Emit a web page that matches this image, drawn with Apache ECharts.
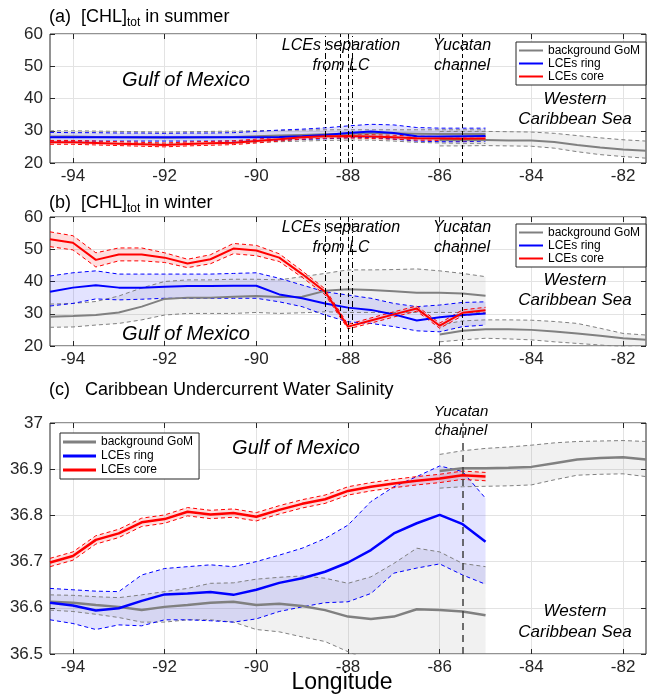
<!DOCTYPE html>
<html>
<head>
<meta charset="utf-8">
<title>CHL and CUW salinity along the LCE path</title>
<script src="https://cdn.jsdelivr.net/npm/echarts@6/dist/echarts.min.js"></script>
<style>
  html, body { margin: 0; padding: 0; background: #fff; }
  #chart { width: 647px; height: 698px; }
</style>
</head>
<body>
<div id="chart"></div>
<script>
// longitudes of the along-path sections
const LON = [-94.5, -94, -93.5, -93, -92.5, -92, -91.5, -91, -90.5, -90, -89.5, -89, -88.5, -88, -87.5, -87, -86.5, -86, -85.5, -85]
const LON_CARIB = [-86, -85.5, -85, -84.5, -84, -83.5, -83, -82.5, -82, -81.5]
const X_TICKS = [-94, -92, -90, -88, -86, -84, -82]
const SEPARATION_LON = [-88.5, -88.17, -88.0, -87.9]
const YUCATAN_LON = -85.5
const LEGEND_NAMES = ["background GoM", "LCEs ring", "LCEs core"]

// (a) [CHL]tot in summer
const SUMMER_GOM_MEAN = [28.2, 28.2, 28.1, 28.0, 27.9, 27.8, 27.9, 28.0, 28.1, 28.3, 28.5, 28.7, 28.9, 29.1, 29.2, 29.2, 29.1, 29.0, 29.0, 29.0]
const SUMMER_GOM_HI = [30.0, 30.0, 29.9, 29.8, 29.7, 29.6, 29.7, 29.8, 29.9, 30.0, 30.1, 30.2, 30.3, 30.3, 30.3, 30.3, 30.3, 30.3, 30.3, 30.3]
const SUMMER_GOM_LO = [26.3, 26.3, 26.2, 26.1, 26.0, 25.9, 26.0, 26.1, 26.2, 26.4, 26.6, 26.8, 27.0, 27.1, 27.1, 26.8, 26.4, 26.2, 26.1, 26.1]
const SUMMER_RING_MEAN = [28.0, 28.0, 28.0, 28.0, 28.0, 28.0, 28.0, 28.0, 28.0, 28.0, 28.1, 28.3, 28.7, 29.3, 29.8, 29.3, 28.3, 28.2, 28.3, 28.4]
const SUMMER_RING_HI = [29.5, 29.4, 29.4, 29.3, 29.3, 29.2, 29.3, 29.3, 29.4, 29.8, 30.2, 30.5, 30.9, 31.5, 32.0, 31.8, 31.0, 30.8, 30.8, 30.8]
const SUMMER_RING_LO = [26.8, 26.8, 26.8, 26.8, 26.8, 26.8, 26.8, 26.8, 26.8, 26.9, 27.1, 27.3, 27.5, 27.8, 27.9, 27.4, 26.8, 26.6, 26.6, 26.8]
const SUMMER_CORE_MEAN = [26.4, 26.4, 26.2, 26.0, 25.8, 25.6, 25.9, 26.1, 26.3, 26.8, 27.4, 28.0, 28.3, 28.4, 28.2, 28.0, 27.7, 27.6, 27.5, 27.6]
const SUMMER_CORE_SPREAD = [0.6, 0.6, 0.6, 0.6, 0.6, 0.6, 0.6, 0.6, 0.6, 0.6, 0.6, 0.6, 0.6, 0.6, 0.6, 0.6, 0.6, 0.6, 0.6, 0.6]
const SUMMER_CARIB_MEAN = [27.1, 27.1, 27.1, 27.0, 27.0, 26.5, 25.6, 24.8, 24.2, 23.8]
const SUMMER_CARIB_HI = [29.8, 29.8, 29.8, 29.7, 29.6, 29.2, 28.5, 27.8, 27.2, 26.8]
const SUMMER_CARIB_LO = [25.3, 25.3, 25.4, 25.3, 25.2, 24.6, 23.5, 22.6, 22.0, 21.5]

// (b) [CHL]tot in winter
const WINTER_GOM_MEAN = [29.1, 29.3, 29.6, 30.4, 32.2, 34.6, 35.0, 35.0, 35.3, 35.5, 35.2, 35.3, 37.1, 37.6, 37.4, 37.0, 36.5, 36.5, 36.3, 35.6]
const WINTER_GOM_HI = [33.0, 33.2, 33.8, 35.5, 38.0, 40.0, 40.5, 40.5, 40.7, 40.7, 40.5, 41.5, 42.5, 43.6, 43.6, 43.7, 43.9, 43.3, 42.5, 41.5]
const WINTER_GOM_LO = [25.8, 25.9, 26.5, 27.0, 28.1, 29.6, 30.1, 30.1, 30.1, 30.4, 30.1, 30.3, 30.6, 30.4, 30.4, 30.4, 30.4, 30.4, 30.4, 30.3]
const WINTER_RING_MEAN = [36.8, 38.1, 38.8, 38.1, 38.1, 38.4, 38.6, 38.6, 38.7, 38.7, 36.0, 34.8, 33.2, 31.9, 31.2, 29.8, 27.9, 28.9, 29.6, 30.1]
const WINTER_RING_HI = [41.7, 42.7, 43.3, 42.3, 42.3, 42.3, 42.3, 42.3, 42.5, 42.7, 41.0, 38.9, 36.8, 35.8, 34.8, 33.2, 32.2, 32.7, 33.5, 33.7]
const WINTER_RING_LO = [32.4, 33.2, 34.6, 34.3, 34.5, 34.8, 34.8, 34.8, 34.8, 34.8, 33.7, 32.2, 29.6, 27.5, 27.0, 26.0, 24.7, 24.4, 26.0, 26.5]
const WINTER_CORE_MEAN = [53.1, 52.0, 46.7, 48.4, 48.4, 47.4, 45.6, 46.9, 50.2, 49.6, 47.4, 42.3, 36.8, 26.0, 27.9, 29.8, 31.6, 26.3, 30.3, 31.1]
const WINTER_CORE_SPREAD = [2.3, 2.2, 2.2, 2.0, 2.0, 1.5, 1.3, 1.4, 1.6, 1.6, 1.2, 1.0, 0.9, 0.7, 0.8, 0.8, 0.8, 0.8, 0.9, 0.9]
const WINTER_CARIB_MEAN = [23.6, 24.7, 25.2, 25.2, 25.0, 24.5, 23.9, 23.2, 22.4, 21.9]
const WINTER_CARIB_HI = [26.5, 27.8, 28.1, 28.1, 28.0, 27.6, 27.0, 25.5, 23.9, 23.4]
const WINTER_CARIB_LO = [21.3, 21.9, 22.4, 22.2, 21.9, 21.3, 20.8, 20.3, 19.8, 19.5]

// (c) Caribbean Undercurrent Water salinity
const SAL_GOM_MEAN = [36.613, 36.611, 36.606, 36.602, 36.595, 36.602, 36.606, 36.611, 36.613, 36.606, 36.609, 36.604, 36.595, 36.581, 36.576, 36.581, 36.597, 36.595, 36.592, 36.584]
const SAL_GOM_HI = [36.628, 36.627, 36.624, 36.622, 36.628, 36.635, 36.642, 36.653, 36.654, 36.662, 36.666, 36.669, 36.664, 36.653, 36.667, 36.696, 36.729, 36.721, 36.696, 36.689]
const SAL_GOM_LO = [36.595, 36.592, 36.586, 36.579, 36.569, 36.569, 36.574, 36.574, 36.569, 36.553, 36.548, 36.537, 36.527, 36.505, 36.485, 36.470, 36.460, 36.450, 36.440, 36.430]
const SAL_RING_MEAN = [36.611, 36.605, 36.594, 36.599, 36.615, 36.629, 36.631, 36.634, 36.628, 36.639, 36.654, 36.664, 36.678, 36.698, 36.725, 36.761, 36.783, 36.801, 36.781, 36.743]
const SAL_RING_HI = [36.642, 36.639, 36.636, 36.635, 36.671, 36.685, 36.689, 36.693, 36.689, 36.700, 36.714, 36.729, 36.750, 36.779, 36.830, 36.862, 36.884, 36.907, 36.895, 36.837]
const SAL_RING_LO = [36.574, 36.566, 36.553, 36.563, 36.561, 36.574, 36.574, 36.572, 36.569, 36.576, 36.592, 36.602, 36.611, 36.613, 36.631, 36.675, 36.686, 36.695, 36.671, 36.651]
const SAL_CORE_MEAN = [36.698, 36.712, 36.747, 36.761, 36.785, 36.792, 36.808, 36.802, 36.805, 36.797, 36.812, 36.825, 36.835, 36.853, 36.862, 36.869, 36.875, 36.880, 36.887, 36.884]
const SAL_CORE_SPREAD = [0.009, 0.009, 0.009, 0.009, 0.009, 0.009, 0.009, 0.009, 0.009, 0.009, 0.009, 0.009, 0.009, 0.009, 0.009, 0.009, 0.009, 0.009, 0.009, 0.009]
const SAL_CARIB_MEAN = [36.896, 36.902, 36.902, 36.903, 36.905, 36.913, 36.921, 36.924, 36.926, 36.921]
const SAL_CARIB_HI = [36.932, 36.940, 36.945, 36.948, 36.952, 36.957, 36.960, 36.961, 36.962, 36.960]
const SAL_CARIB_LO = [36.859, 36.862, 36.863, 36.864, 36.866, 36.877, 36.887, 36.889, 36.890, 36.884]

const FONT = "'Liberation Sans', Arial, Helvetica, sans-serif"
const AXIS_COLOR = "#262626"
const GRID_COLOR = "#e3e3e3"
const COLORS = { gom: "#808080", ring: "#0000ff", core: "#ff0000" }
const FILLS = { gom: "rgba(128, 128, 128, 0.11)", ring: "rgba(0, 0, 255, 0.11)", core: "rgba(255, 0, 0, 0.13)" }
const DASH = [4, 3]
const DASH_DOT = [6, 3, 1, 3]

const PANELS = [
  { top: 34, height: 129, min: 20, max: 60, interval: 10 },
  { top: 217, height: 129, min: 20, max: 60, interval: 10 },
  { top: 423, height: 231, min: 36.5, max: 37, interval: 0.1 }
]

const chart = echarts.init(document.getElementById("chart"), null, { renderer: "canvas" })

function pairs(xs, ys) {
  return xs.map((x, i) => [x, ys[i]])
}

function bandSeries(panel, xs, lo, hi, fill) {
  return {
    type: "custom",
    xAxisIndex: panel,
    yAxisIndex: panel,
    clip: true,
    silent: true,
    z: 1,
    data: xs.map((x, i) => [x, lo[i], hi[i]]),
    encode: { x: 0, y: [1, 2] },
    renderItem(params, api) {
      if (params.dataIndex !== 0) return null
      const top = xs.map((x, i) => api.coord([x, hi[i]]))
      const bottom = xs.map((x, i) => api.coord([x, lo[i]])).reverse()
      return { type: "polygon", shape: { points: top.concat(bottom) }, style: { fill } }
    }
  }
}

function lineSeries(panel, xs, ys, color, width, type, name) {
  return {
    type: "line",
    name,
    xAxisIndex: panel,
    yAxisIndex: panel,
    data: pairs(xs, ys),
    symbol: "none",
    silent: true,
    z: type === "solid" ? 4 : 3,
    lineStyle: { color, width, type }
  }
}

function vLines(panel) {
  const data = panel === 2
    ? [{ xAxis: YUCATAN_LON, lineStyle: { color: "#404040", width: 1.5, type: [7, 5] } }]
    : SEPARATION_LON.map((lon, i) => ({
      xAxis: lon,
      lineStyle: { color: "#000", width: 1, type: i === 0 || i === 3 ? DASH_DOT : DASH }
    })).concat([{ xAxis: YUCATAN_LON, lineStyle: { color: "#000", width: 1, type: DASH } }])

  return {
    type: "line",
    xAxisIndex: panel,
    yAxisIndex: panel,
    data: [],
    silent: true,
    markLine: { symbol: ["none", "none"], silent: true, label: { show: false }, animation: false, data }
  }
}

function panelSeries(panel, gom, ring, core, carib, meanWidth) {
  const coreHi = core.mean.map((v, i) => v + core.spread[i])
  const coreLo = core.mean.map((v, i) => v - core.spread[i])

  return [
    bandSeries(panel, LON, gom.lo, gom.hi, FILLS.gom),
    bandSeries(panel, LON_CARIB, carib.lo, carib.hi, FILLS.gom),
    bandSeries(panel, LON, ring.lo, ring.hi, FILLS.ring),
    bandSeries(panel, LON, coreLo, coreHi, FILLS.core),
    lineSeries(panel, LON, gom.hi, COLORS.gom, 1, DASH),
    lineSeries(panel, LON, gom.lo, COLORS.gom, 1, DASH),
    lineSeries(panel, LON_CARIB, carib.hi, COLORS.gom, 1, DASH),
    lineSeries(panel, LON_CARIB, carib.lo, COLORS.gom, 1, DASH),
    lineSeries(panel, LON, ring.hi, COLORS.ring, 1, DASH),
    lineSeries(panel, LON, ring.lo, COLORS.ring, 1, DASH),
    lineSeries(panel, LON, coreHi, COLORS.core, 1, DASH),
    lineSeries(panel, LON, coreLo, COLORS.core, 1, DASH),
    lineSeries(panel, LON, gom.mean, COLORS.gom, meanWidth, "solid", LEGEND_NAMES[0]),
    lineSeries(panel, LON_CARIB, carib.mean, COLORS.gom, meanWidth, "solid"),
    lineSeries(panel, LON, ring.mean, COLORS.ring, meanWidth, "solid", LEGEND_NAMES[1]),
    lineSeries(panel, LON, core.mean, COLORS.core, meanWidth, "solid", LEGEND_NAMES[2]),
    vLines(panel)
  ]
}

function bottomAxis(panel) {
  return {
    type: "value",
    gridIndex: panel,
    position: "bottom",
    min: -94.5,
    max: -81.5,
    axisLine: { show: false },
    axisTick: { inside: true, length: 5, customValues: X_TICKS, lineStyle: { color: AXIS_COLOR } },
    axisLabel: { customValues: X_TICKS, color: AXIS_COLOR, fontSize: 17, fontFamily: FONT, margin: 5 },
    splitLine: { show: true, lineStyle: { color: GRID_COLOR } }
  }
}

function topAxis(panel) {
  return {
    type: "value",
    gridIndex: panel,
    position: "top",
    min: -94.5,
    max: -81.5,
    axisLine: { show: false },
    axisTick: { inside: true, length: 5, customValues: X_TICKS, lineStyle: { color: AXIS_COLOR } },
    axisLabel: { show: false },
    splitLine: { show: false }
  }
}

function leftAxis(panel) {
  const p = PANELS[panel]
  return {
    type: "value",
    gridIndex: panel,
    position: "left",
    min: p.min,
    max: p.max,
    interval: p.interval,
    axisLine: { show: false },
    axisTick: { show: true, inside: true, length: 5, lineStyle: { color: AXIS_COLOR } },
    axisLabel: { color: AXIS_COLOR, fontSize: 17, fontFamily: FONT, margin: 7 },
    splitLine: { show: true, lineStyle: { color: GRID_COLOR } }
  }
}

function rightAxis(panel) {
  const p = PANELS[panel]
  return {
    type: "value",
    gridIndex: panel,
    position: "right",
    min: p.min,
    max: p.max,
    interval: p.interval,
    axisLine: { show: false },
    axisTick: { show: true, inside: true, length: 5, lineStyle: { color: AXIS_COLOR } },
    axisLabel: { show: false },
    splitLine: { show: false }
  }
}

// legend keys drawn as thin bars so they read as plain line samples
function legendFor(top, left, lineWidth, itemWidth, rowHeight) {
  return {
    orient: "vertical",
    top,
    left,
    itemGap: 0,
    itemWidth,
    itemHeight: lineWidth,
    icon: "rect",
    padding: [2, 6, 2, 3],
    borderColor: AXIS_COLOR,
    borderWidth: 1,
    borderRadius: 0,
    backgroundColor: "#fff",
    selectedMode: false,
    z: 20,
    textStyle: { fontFamily: FONT, fontSize: 12, color: "#000", lineHeight: rowHeight },
    data: LEGEND_NAMES.map((name, i) => ({
      name,
      itemStyle: { color: [COLORS.gom, COLORS.ring, COLORS.core][i], borderWidth: 0 }
    }))
  }
}

function note(text, x, y, size, lineHeight) {
  return {
    type: "text",
    x,
    y,
    z: 30,
    silent: true,
    style: {
      text,
      font: `italic ${size}px ${FONT}`,
      fill: "#000",
      align: "center",
      verticalAlign: "middle",
      lineHeight
    }
  }
}

function panelTitle(label, main, sub, rest, y) {
  return {
    type: "text",
    x: 49,
    y,
    z: 30,
    silent: true,
    style: {
      text: sub ? `{n|${label}  ${main}}{s|${sub}}{n| ${rest}}` : `{n|${label}   ${main}}`,
      align: "left",
      verticalAlign: "middle",
      rich: {
        n: { fontFamily: FONT, fontSize: 18, lineHeight: 24, verticalAlign: "middle", fill: "#000" },
        s: { fontFamily: FONT, fontSize: 12, lineHeight: 13, verticalAlign: "bottom", fill: "#000" }
      }
    }
  }
}

const series = [
  ...panelSeries(0,
    { mean: SUMMER_GOM_MEAN, hi: SUMMER_GOM_HI, lo: SUMMER_GOM_LO },
    { mean: SUMMER_RING_MEAN, hi: SUMMER_RING_HI, lo: SUMMER_RING_LO },
    { mean: SUMMER_CORE_MEAN, spread: SUMMER_CORE_SPREAD },
    { mean: SUMMER_CARIB_MEAN, hi: SUMMER_CARIB_HI, lo: SUMMER_CARIB_LO }, 2),
  ...panelSeries(1,
    { mean: WINTER_GOM_MEAN, hi: WINTER_GOM_HI, lo: WINTER_GOM_LO },
    { mean: WINTER_RING_MEAN, hi: WINTER_RING_HI, lo: WINTER_RING_LO },
    { mean: WINTER_CORE_MEAN, spread: WINTER_CORE_SPREAD },
    { mean: WINTER_CARIB_MEAN, hi: WINTER_CARIB_HI, lo: WINTER_CARIB_LO }, 2),
  ...panelSeries(2,
    { mean: SAL_GOM_MEAN, hi: SAL_GOM_HI, lo: SAL_GOM_LO },
    { mean: SAL_RING_MEAN, hi: SAL_RING_HI, lo: SAL_RING_LO },
    { mean: SAL_CORE_MEAN, spread: SAL_CORE_SPREAD },
    { mean: SAL_CARIB_MEAN, hi: SAL_CARIB_HI, lo: SAL_CARIB_LO }, 2.5)
]

chart.setOption({
  animation: false,
  backgroundColor: "#fff",
  textStyle: { fontFamily: FONT },
  grid: PANELS.map((p) => ({
    left: 50,
    width: 596,
    top: p.top,
    height: p.height,
    show: true,
    borderColor: AXIS_COLOR,
    borderWidth: 1,
    backgroundColor: "transparent"
  })),
  xAxis: [0, 1, 2].map(bottomAxis).concat([0, 1, 2].map(topAxis)),
  yAxis: [0, 1, 2].map(leftAxis).concat([0, 1, 2].map(rightAxis)),
  legend: [
    legendFor(42, 516, 2, 24, 13),
    legendFor(224, 516, 2, 24, 13),
    legendFor(433, 60, 3, 33, 14)
  ],
  series,
  graphic: [
    panelTitle("(a)", "[CHL]", "tot", "in summer", 17),
    panelTitle("(b)", "[CHL]", "tot", "in winter", 203),
    panelTitle("(c)", "Caribbean Undercurrent Water Salinity", null, null, 390),
    note("Gulf of Mexico", 186, 80, 20),
    note("LCEs separation\nfrom LC", 341, 56, 16, 20),
    note("Yucatan\nchannel", 462, 56, 16, 20),
    note("Western\nCaribbean Sea", 575, 109, 17, 20),
    note("Gulf of Mexico", 186, 334, 20),
    note("LCEs separation\nfrom LC", 341, 238, 16, 20),
    note("Yucatan\nchannel", 462, 238, 16, 20),
    note("Western\nCaribbean Sea", 575, 290, 17, 20),
    note("Gulf of Mexico", 296, 448, 20),
    note("Yucatan\nchannel", 461, 421.5, 15, 19),
    note("Western\nCaribbean Sea", 575, 621.5, 17, 21),
    {
      type: "text",
      x: 342,
      y: 683,
      z: 30,
      silent: true,
      style: { text: "Longitude", font: `23px ${FONT}`, fill: "#000", align: "center", verticalAlign: "middle" }
    }
  ]
})
</script>
</body>
</html>
